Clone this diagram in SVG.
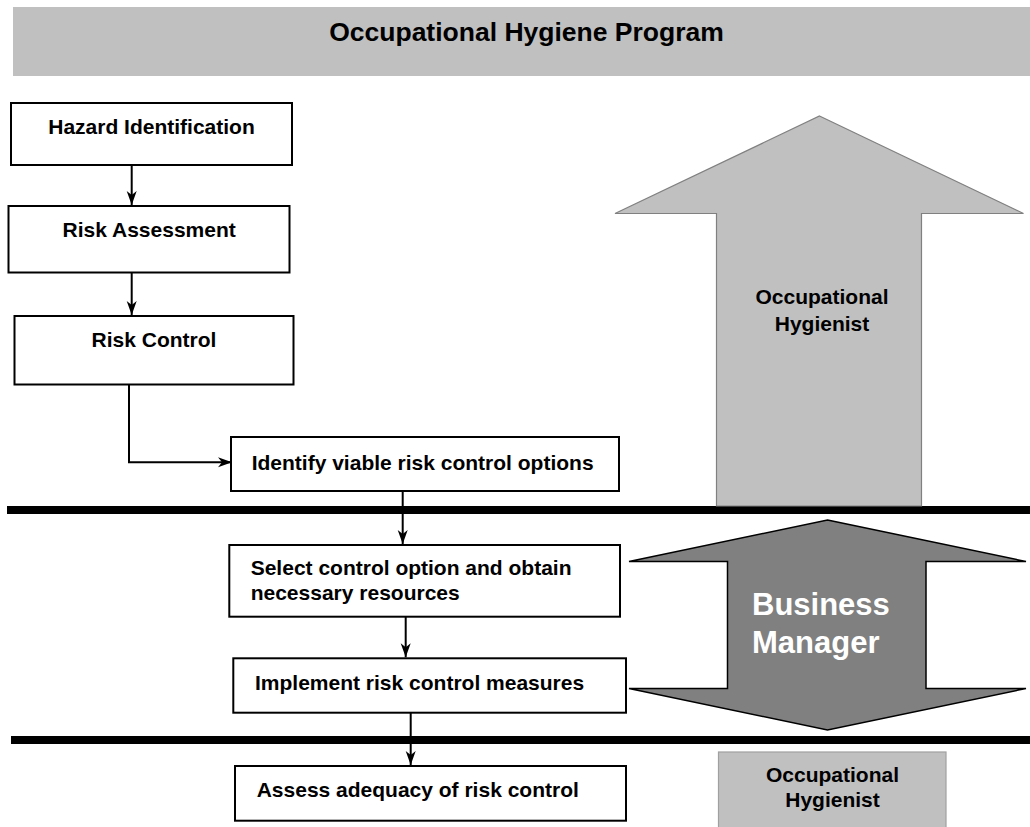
<svg xmlns="http://www.w3.org/2000/svg" width="1030" height="827" viewBox="0 0 1030 827">
<style>
text{font-family:"Liberation Sans",Arial,sans-serif;font-weight:bold;fill:#000}
.box{fill:#fff;stroke:#000;stroke-width:2}
.t{font-size:21px}
.c{text-anchor:middle}
.conn{fill:none;stroke:#000;stroke-width:2}
.sep{stroke:#000;stroke-width:8}
</style>
<defs>
<marker id="ah" markerUnits="userSpaceOnUse" markerWidth="16" markerHeight="12" viewBox="-15 -6 16 12" refX="0" refY="0" orient="auto">
<path d="M0,0 L-14,-5 L-10,0 L-14,5 Z" fill="#000"/>
</marker>
</defs>
<rect width="1030" height="827" fill="#fff"/>
<g id="title">
<rect x="13" y="7" width="1030" height="69" fill="#c0c0c0"/>
<text x="526.5" y="40.5" class="c" font-size="26.5">Occupational Hygiene Program</text>
</g>
<g id="separators">
<line class="sep" x1="7" y1="510" x2="1030" y2="510"/>
<line class="sep" x1="11" y1="740" x2="1030" y2="740"/>
</g>
<g id="oh-arrow">
<polygon points="819.5,116 1023.5,213.5 921.5,213.5 921.5,506 716.5,506 716.5,213.5 615,213.5" fill="#c0c0c0" stroke="#808080" stroke-width="1.2"/>
<text class="t c" x="822" y="304">Occupational</text>
<text class="t c" x="822" y="331">Hygienist</text>
</g>
<g id="bm-arrow">
<polygon points="827.5,520 1026,561.5 926,561.5 926,688.5 1026,688.5 827.5,730 629,688.5 727.5,688.5 727.5,561.5 629,561.5" fill="#808080" stroke="#000" stroke-width="1.5"/>
<text x="752" y="615" font-size="31" style="fill:#fff">Business</text>
<text x="752" y="652.5" font-size="31" style="fill:#fff">Manager</text>
</g>
<g id="oh-box">
<rect x="718.5" y="752" width="227.5" height="90" fill="#c0c0c0" stroke="#a0a0a0" stroke-width="1.2"/>
<text class="t c" x="832.5" y="781.5">Occupational</text>
<text class="t c" x="832.5" y="806.5">Hygienist</text>
</g>
<g id="hazard">
<rect class="box" x="11" y="103" width="281" height="62"/>
<text class="t c" x="151.5" y="134">Hazard Identification</text>
</g>
<g id="assessment">
<rect class="box" x="8.5" y="206" width="281" height="66.5"/>
<text class="t c" x="149.2" y="237.3">Risk Assessment</text>
</g>
<g id="control">
<rect class="box" x="14.5" y="316" width="279" height="68.5"/>
<text class="t c" x="154" y="347">Risk Control</text>
</g>
<g id="identify">
<rect class="box" x="231" y="437" width="388" height="54"/>
<text class="t" x="251.7" y="470">Identify viable risk control options</text>
</g>
<g id="select">
<rect class="box" x="229.3" y="545" width="390.7" height="71.7"/>
<text class="t" x="250.7" y="575">Select control option and obtain</text>
<text class="t" x="250.7" y="600">necessary resources</text>
</g>
<g id="implement">
<rect class="box" x="233.3" y="658.3" width="392.7" height="54.4"/>
<text class="t" x="255" y="690">Implement risk control measures</text>
</g>
<g id="assess">
<rect class="box" x="235" y="766" width="391" height="54.7"/>
<text class="t" x="256.7" y="796.7">Assess adequacy of risk control</text>
</g>
<g id="connectors">
<line class="conn" x1="131.7" y1="165" x2="131.7" y2="205" marker-end="url(#ah)"/>
<line class="conn" x1="131.7" y1="272.7" x2="131.7" y2="315" marker-end="url(#ah)"/>
<polyline class="conn" points="129,384.5 129,462.3 232,462.3" marker-end="url(#ah)"/>
<line class="conn" x1="402.7" y1="491" x2="402.7" y2="544" marker-end="url(#ah)"/>
<line class="conn" x1="405.7" y1="616.7" x2="405.7" y2="657.3" marker-end="url(#ah)"/>
<line class="conn" x1="410.7" y1="712.7" x2="410.7" y2="765" marker-end="url(#ah)"/>
</g>
</svg>
